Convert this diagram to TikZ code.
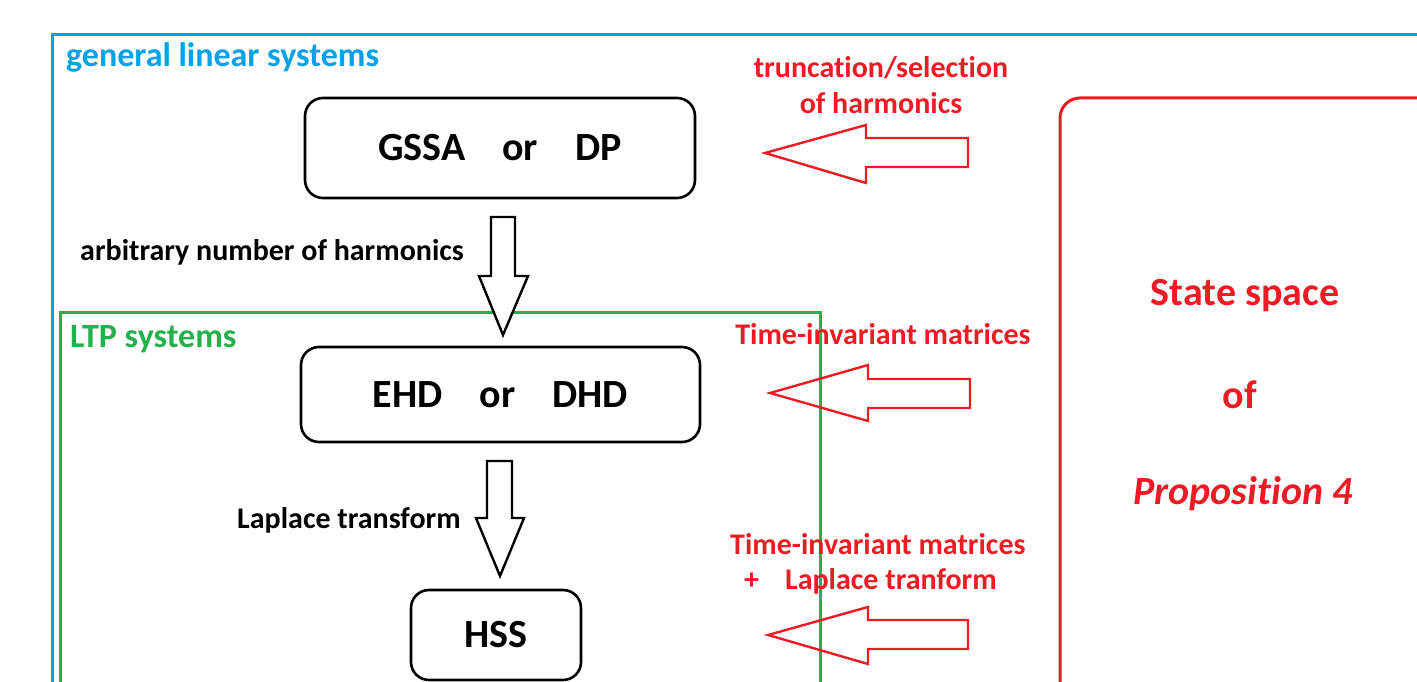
\documentclass[tikz,border=0pt]{standalone}
\usepackage{fontspec}
\setmainfont{Carlito}[Ligatures=NoCommon]
\definecolor{cblue}{RGB}{0,162,232}
\definecolor{cgreen}{RGB}{34,177,76}
\definecolor{cred}{RGB}{237,28,36}
\begin{document}
\begin{tikzpicture}[x=1pt,y=-1pt,
  blk/.style={draw=black,line width=2.6pt,rounded corners=18pt,fill=none,inner sep=0pt},
  redarrow/.style={draw=cred,line width=2.4pt,line join=miter},
  blkarrow/.style={draw=black,line width=2.4pt,line join=miter,fill=white},
  lbl/.style={font=\bfseries\fontsize{30}{36}\selectfont,inner sep=0pt},
  big/.style={font=\bfseries\fontsize{40}{48}\selectfont},
  rlbl/.style={lbl,text=cred,align=center}]
\useasboundingbox (0,0) rectangle (1417,682);
\clip (0,0) rectangle (1417,682);
% frames
\draw[cblue,line width=3pt] (52,35) rectangle (1440,720);
\draw[cgreen,line width=3pt] (60.5,312.5) rectangle (820,720);
\draw[cred,line width=3pt,rounded corners=20pt] (1060,98) rectangle (1480,740);
\node[lbl,text=cblue,anchor=west,font=\bfseries\fontsize{34}{40}\selectfont] (gls) at (66,57) {general linear systems};
\node[lbl,text=cgreen,anchor=west,font=\bfseries\fontsize{34}{40}\selectfont] (ltp) at (70,339) {LTP systems};
% main nodes
\node[blk,big,minimum width=390pt,minimum height=100pt] (gssa) at (500,148)
  {\raisebox{-2pt}{GSSA\hspace{37pt}or\hspace{37pt}DP}};
\node[blk,big,minimum width=399pt,minimum height=95pt] (ehd) at (500.5,394.5)
  {\raisebox{-3pt}{EHD\hspace{37pt}or\hspace{37pt}DHD}};
\node[blk,big,minimum width=170pt,minimum height=90pt] (hss) at (496,635)
  {HSS};
% down arrows
\draw[blkarrow] (491,217) -- (515,217) -- (515,276) -- (528,276) -- (503,335) -- (479,276) -- (491,276) -- cycle;
\draw[blkarrow] (487,461) -- (512,461) -- (512,518) -- (524,518) -- (500,576) -- (476,518) -- (487,518) -- cycle;
\node[lbl,anchor=west] (arb) at (80,252) {arbitrary number of harmonics};
\node[lbl,anchor=west] (lap) at (237,520) {Laplace transform};
% red arrows
\draw[redarrow] (968,138) -- (866,138) -- (866,125) -- (765,153) -- (866,183) -- (866,167) -- (968,167) -- cycle;
\draw[redarrow] (970,379) -- (868,379) -- (868,365) -- (770,393) -- (868,421) -- (868,408) -- (970,408) -- cycle;
\draw[redarrow] (968,620) -- (868,620) -- (868,607) -- (768,635) -- (868,664) -- (868,649) -- (968,649) -- cycle;
\node[rlbl] (trunc) at (881,85) {truncation/selection\\of harmonics};
\node[rlbl] (ti1) at (883,334) {Time-invariant matrices};
\node[rlbl,anchor=west] (ti2) at (730,544) {Time-invariant matrices};
\node[rlbl,anchor=west] (ti3) at (744,581) {+\hspace{26pt}Laplace tranform};
% state space
\node[lbl,text=cred,big] (ss) at (1245,296) {State space};
\node[lbl,text=cred,big] (of) at (1240,395) {of};
\node[lbl,text=cred,font=\bfseries\itshape\fontsize{40}{48}\selectfont] (prop) at (1243,494) {Proposition 4};
\end{tikzpicture}
\end{document}
